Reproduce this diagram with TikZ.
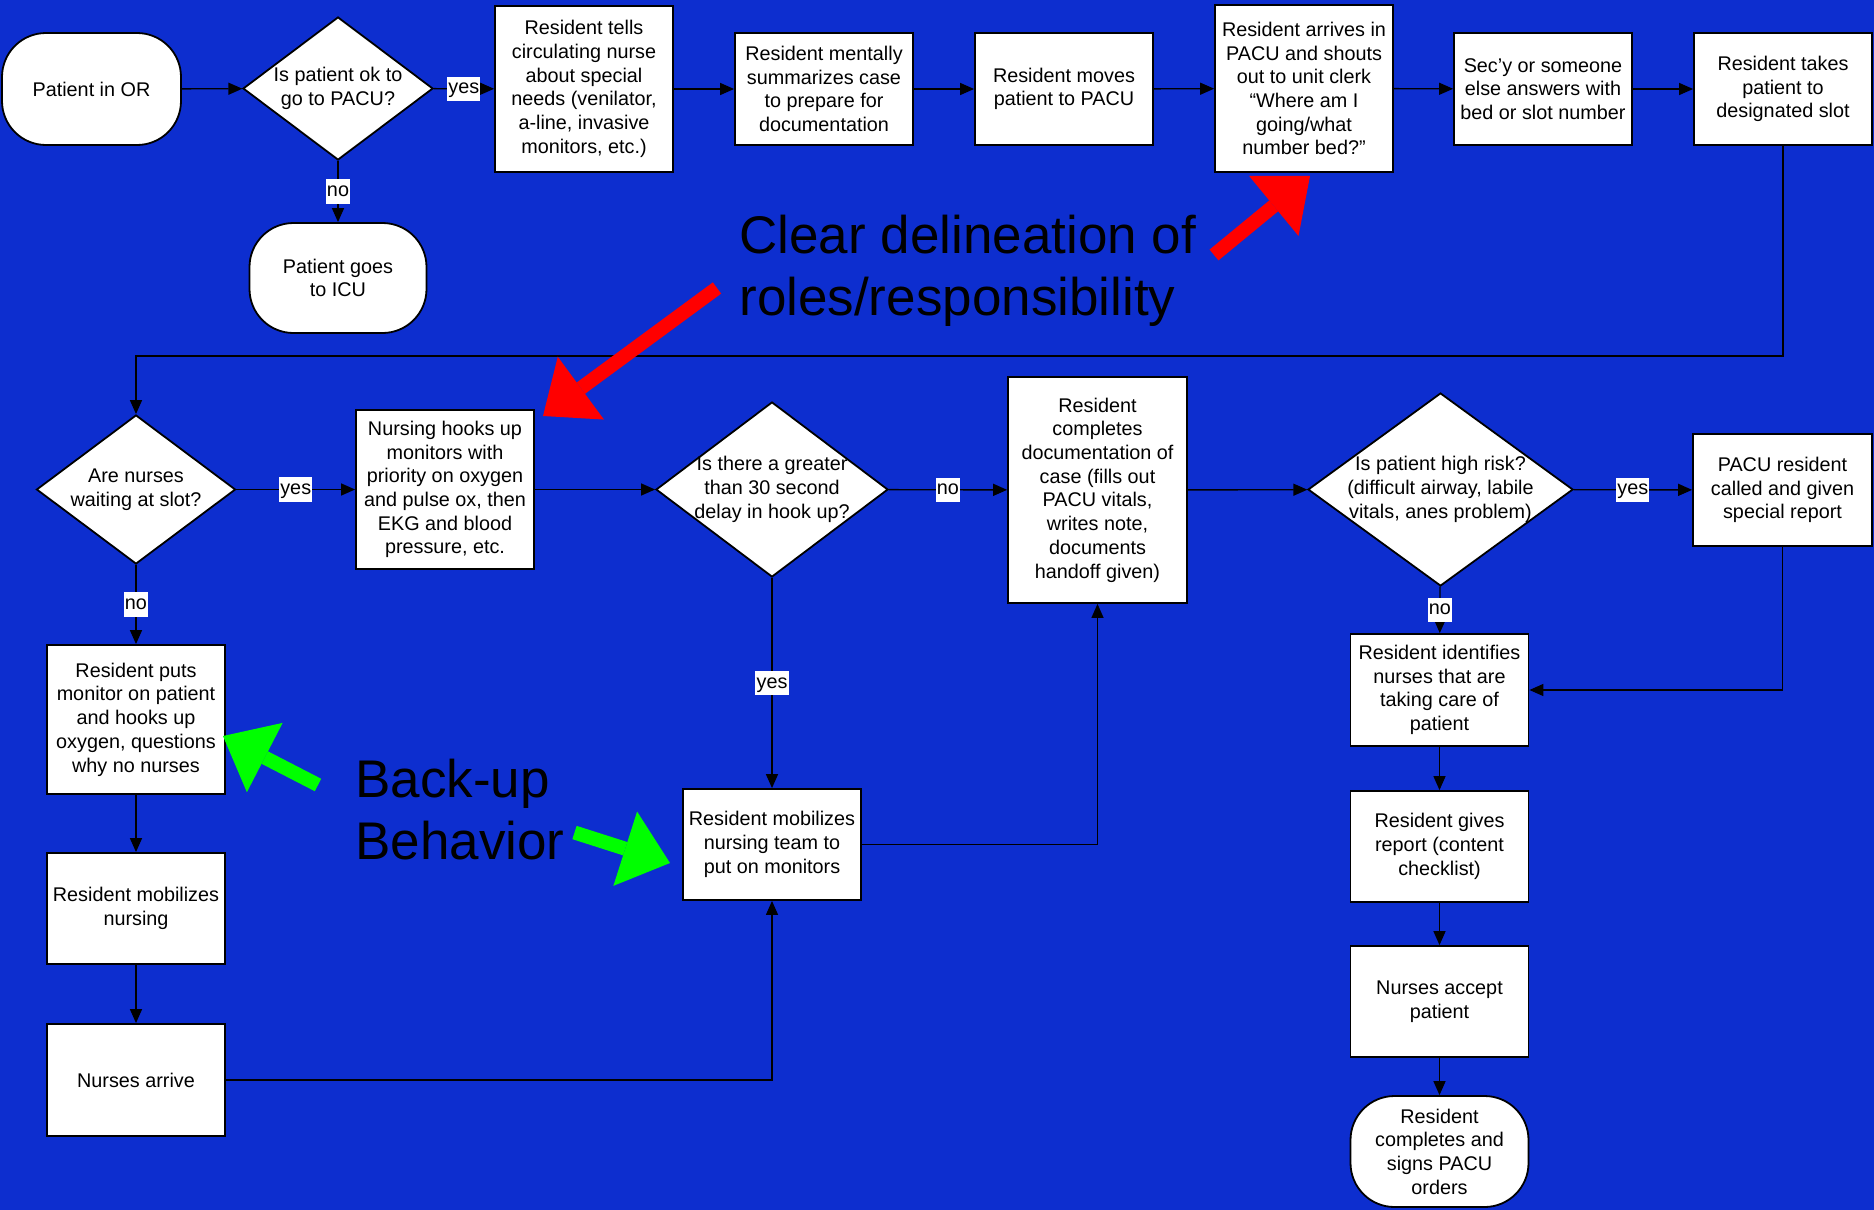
\documentclass[tikz,border=0pt]{standalone}
\usepackage{fontspec}
\setmainfont{Liberation Sans}
\usepackage{xcolor}
\usetikzlibrary{shapes.geometric,arrows.meta}
\definecolor{slideblue}{RGB}{13,46,207}
\newcommand{\boxfont}{\fontsize{9.9}{11.85}\selectfont}
\newcommand{\bigfont}{\fontsize{26.5}{31}\selectfont}
\tikzset{
  procbox/.style={draw=black,line width=0.9pt,fill=white,rectangle,minimum width=89pt,minimum height=56pt,inner sep=0pt,align=center,font=\boxfont},
  termbox/.style={procbox,rounded corners=22pt},
  decision/.style={draw=black,line width=0.9pt,fill=white,diamond,inner sep=-8pt,align=center,font=\boxfont},
  conn/.style={line width=0.7pt,-{Triangle[length=7pt,width=6pt]}},
  answer/.style={fill=white,inner xsep=0.6pt,inner ysep=1.3pt,text height=7.3pt,text depth=2.2pt,font=\boxfont},
  callout/.style={line width=7pt,-{Triangle[length=23.5pt,width=39pt,line width=0pt]}},
  bignote/.style={anchor=west,align=left,inner sep=0pt,font=\bigfont}
}
\begin{document}
\begin{tikzpicture}[x=0.5pt,y=-0.5pt]
\useasboundingbox (0,0) rectangle (1874,1210);
\fill[slideblue] (0,0) rectangle (1874,1210);
\coordinate (turn) at (0,356);
\node[termbox,minimum width=89.5pt] (or) at (91.5,89) {Patient in OR};
\node[decision,minimum width=95pt,minimum height=71.5pt] (d1) at (338,88.5) {Is patient ok to\\go to PACU?};
\node[procbox,minimum height=83pt] (tells) at (584,89) {Resident tells\\circulating nurse\\about special\\needs (venilator,\\a-line, invasive\\monitors, etc.)};
\node[procbox] (summ) at (824,89) {Resident mentally\\summarizes case\\to prepare for\\documentation};
\node[procbox] (moves) at (1064,89) {Resident moves\\patient to PACU};
\node[procbox,minimum height=83.5pt] (arrives) at (1304,88.5) {Resident arrives in\\PACU and shouts\\out to unit clerk\\“Where am I\\going/what\\number bed?”};
\node[procbox] (secy) at (1543,89) {Sec’y or someone\\else answers with\\bed or slot number};
\node[procbox] (takes) at (1783,89) {Resident takes\\patient to\\designated slot};
\node[termbox,minimum width=88.5pt,minimum height=55pt] (icu) at (338,278) {Patient goes\\to ICU};
\node[decision,minimum width=99.5pt,minimum height=74.5pt] (d2) at (136,489.5) {Are nurses\\waiting at slot?};
\node[procbox,minimum height=79.5pt] (hooks) at (445,489.5) {Nursing hooks up\\monitors with\\priority on oxygen\\and pulse ox, then\\EKG and blood\\pressure, etc.};
\node[decision,minimum width=116pt,minimum height=87.5pt] (d3) at (772,489.5) {Is there a greater\\than 30 second\\delay in hook up?};
\node[procbox,minimum width=89.5pt,minimum height=113pt] (doc) at (1097.5,490) {Resident\\completes\\documentation of\\case (fills out\\PACU vitals,\\writes note,\\documents\\handoff given)};
\node[decision,minimum width=132.5pt,minimum height=96.5pt] (d4) at (1440.5,489.5) {Is patient high risk?\\(difficult airway, labile\\vitals, anes problem)};
\node[procbox,minimum width=89.5pt] (pacu) at (1782.5,490) {PACU resident\\called and given\\special report};
\node[procbox,minimum height=74.5pt] (puts) at (136,719.5) {Resident puts\\monitor on patient\\and hooks up\\oxygen, questions\\why no nurses};
\node[procbox,minimum height=55.5pt] (mobnurs) at (136,908.5) {Resident mobilizes\\nursing};
\node[procbox] (arrive) at (136,1080) {Nurses arrive};
\node[procbox,minimum height=55.5pt] (team) at (772,844.5) {Resident mobilizes\\nursing team to\\put on monitors};
\node[procbox] (identify) at (1439.5,690) {Resident identifies\\nurses that are\\taking care of\\patient};
\node[procbox,minimum height=55.5pt] (report) at (1439.5,846.5) {Resident gives\\report (content\\checklist)};
\node[procbox,minimum height=55.5pt] (accept) at (1439.5,1001.5) {Nurses accept\\patient};
\node[termbox,minimum height=55.5pt] (orders) at (1439.5,1151.5) {Resident\\completes and\\signs PACU\\orders};
\draw[conn] (or) -- (d1);
\draw[conn] (d1) -- node[answer] {yes} (tells);
\draw[conn] (d1) -- node[answer] {no} (icu);
\draw[conn] (tells) -- (summ);
\draw[conn] (summ) -- (moves);
\draw[conn] (moves) -- (arrives);
\draw[conn] (arrives) -- (secy);
\draw[conn] (secy) -- (takes);
\draw[conn] (takes.south) -- (takes.south |- turn) -| (d2.north);
\draw[conn] (d2) -- node[answer] {yes} (hooks);
\draw[conn] (hooks) -- (d3);
\draw[conn] (d3) -- node[answer] {no} (doc);
\draw[conn] (doc) -- (d4);
\draw[conn] (d4) -- node[answer] {yes} (pacu);
\draw[conn] (d4) -- node[answer] {no} (identify);
\draw[conn] (d2) -- node[answer] {no} (puts);
\draw[conn] (d3) -- node[answer] {yes} (team);
\draw[conn] (puts) -- (mobnurs);
\draw[conn] (mobnurs) -- (arrive);
\draw[conn] (arrive.east) -| (team.south);
\draw[conn] (team.east) -| (doc.south);
\draw[conn] (pacu.south) |- (identify.east);
\draw[conn] (identify) -- (report);
\draw[conn] (report) -- (accept);
\draw[conn] (accept) -- (orders);
\node[bignote] (roles) at (739,271) {Clear delineation of\\roles/responsibility};
\node[bignote] (backup) at (355,810) {Back-up\\Behavior};
\draw[callout,red] (1214,255) -- (1310,176);
\draw[callout,red] (717,288) -- (543,416);
\draw[callout,green] (318,785) -- (223,736);
\draw[callout,green] (574.5,832.5) -- (670,863);
\end{tikzpicture}
\end{document}
